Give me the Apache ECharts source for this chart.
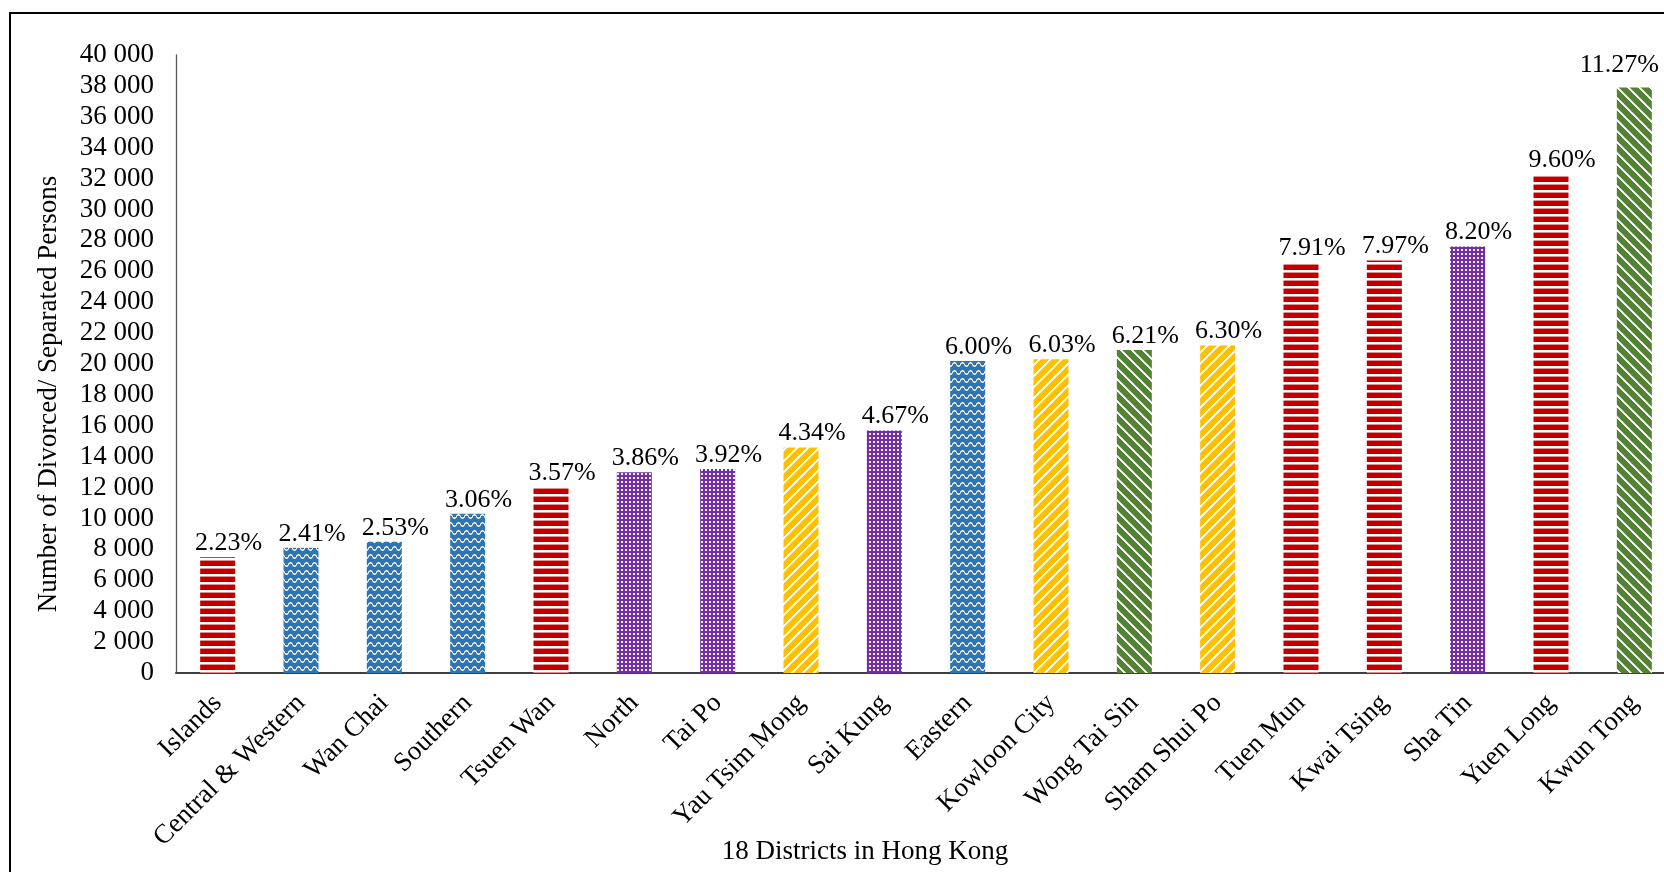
<!DOCTYPE html>
<html>
<head>
<meta charset="utf-8">
<title>Divorced/Separated Persons by District</title>
<script src="https://cdn.jsdelivr.net/npm/echarts@6/dist/echarts.min.js"></script>
<style>
  html, body { margin: 0; padding: 0; background: #ffffff; overflow: hidden; }
  /* the plot runs slightly past the right edge of the window */
  #chart { width: 1680px; height: 872px; }
</style>
</head>
<body>
<div id="chart"></div>
<script>
// District names, in ascending order of divorced/separated population
const categories = [
  'Islands', 'Central & Western', 'Wan Chai', 'Southern', 'Tsuen Wan', 'North',
  'Tai Po', 'Yau Tsim Mong', 'Sai Kung', 'Eastern', 'Kowloon City', 'Wong Tai Sin',
  'Sham Shui Po', 'Tuen Mun', 'Kwai Tsing', 'Sha Tin', 'Yuen Long', 'Kwun Tong'
];

// Number of divorced / separated persons per district
const persons = [
  7500, 8100, 8500, 10300, 12000, 13000,
  13200, 14600, 15700, 20200, 20300, 20900,
  21200, 26600, 26700, 27600, 32300, 37900
];

// Share of the territory-wide total, in percent
const sharePct = [
  2.23, 2.41, 2.53, 3.06, 3.57, 3.86,
  3.92, 4.34, 4.67, 6.00, 6.03, 6.21,
  6.30, 7.91, 7.97, 8.20, 9.60, 11.27
];

// Region group of each district (decides the bar fill)
const regionGroup = [
  'ntWest', 'hkIsland', 'hkIsland', 'hkIsland', 'ntWest', 'ntEast',
  'ntEast', 'klnWest', 'ntEast', 'hkIsland', 'klnWest', 'klnEast',
  'klnWest', 'ntWest', 'ntWest', 'ntEast', 'ntWest', 'klnEast'
];

// Y-axis tick range
const yMin = 0;
const yMax = 40000;
const yStep = 2000;

const FONT = "'Liberation Serif', 'Times New Roman', serif";

// Build a small pixel tile used as a repeating bar fill
function makeTile(w, h, paint) {
  const c = document.createElement('canvas');
  c.width = w; c.height = h;
  const ctx = c.getContext('2d');
  const img = ctx.createImageData(w, h);
  for (let y = 0; y < h; y++) {
    for (let x = 0; x < w; x++) {
      const rgb = paint(x, y);
      const i = (y * w + x) * 4;
      img.data[i] = rgb[0]; img.data[i + 1] = rgb[1]; img.data[i + 2] = rgb[2]; img.data[i + 3] = 255;
    }
  }
  ctx.putImageData(img, 0, 0);
  return c;
}

const WHITE = [255, 255, 255];
const RED = [192, 0, 0];
const BLUE = [46, 117, 182];
const PURPLE = [112, 48, 160];
const YELLOW = [255, 192, 0];
const GREEN = [84, 130, 53];

// horizontal stripes
const redTile = makeTile(8, 8, (x, y) => {
  if (y === 0) return [226, 140, 140];
  if (y <= 5) return RED;
  return WHITE;
});

// white waves on blue
const blueTile = makeTile(8, 8, (x, y) => {
  const yw = 4 - 1.8 * Math.sin(2 * Math.PI * x / 8);
  const d = Math.abs(y - yw);
  if (d < 0.6) return WHITE;
  if (d < 1.1) return [170, 200, 230];
  return BLUE;
});

// white dots on purple
const purpleTile = makeTile(4, 4, (x, y) => {
  if ((x === 1 || x === 2) && (y === 1 || y === 2)) return [242, 236, 248];
  return PURPLE;
});

// forward diagonal stripes
const yellowTile = makeTile(11, 11, (x, y) => {
  const k = (x + y) % 11;
  if (k === 0 || k === 1) return WHITE;
  if (k === 2) return [255, 236, 180];
  return YELLOW;
});

// backward diagonal stripes
const greenTile = makeTile(11, 11, (x, y) => {
  const k = ((x - y) % 11 + 11) % 11;
  if (k === 0 || k === 1) return WHITE;
  if (k === 2) return [200, 215, 190];
  return GREEN;
});

const fills = {
  ntWest: { image: redTile, repeat: 'repeat' },
  hkIsland: { image: blueTile, repeat: 'repeat' },
  ntEast: { image: purpleTile, repeat: 'repeat' },
  klnWest: { image: yellowTile, repeat: 'repeat' },
  klnEast: { image: greenTile, repeat: 'repeat' }
};

// the last label is pulled back inside the visible area
const seriesData = persons.map((v, i) => ({
  value: v,
  itemStyle: { color: fills[regionGroup[i]] },
  label: { offset: i === persons.length - 1 ? [-15, -8] : [11, 0] }
}));

function spaced(n) {
  return String(n).replace(/\B(?=(\d{3})+(?!\d))/g, ' ');
}

const chart = echarts.init(document.getElementById('chart'), null, { renderer: 'canvas' });

chart.setOption({
  backgroundColor: '#ffffff',
  animation: false,
  grid: { left: 176, top: 55, right: 4, bottom: 199, containLabel: false },
  xAxis: {
    type: 'category',
    data: categories,
    axisTick: { show: false },
    axisLine: { show: true, lineStyle: { color: '#404040', width: 2 } },
    axisLabel: {
      interval: 0,
      rotate: 45,
      margin: 26,
      color: '#000',
      fontFamily: FONT,
      fontSize: 27
    }
  },
  yAxis: {
    type: 'value',
    min: yMin,
    max: yMax,
    interval: yStep,
    splitLine: { show: false },
    axisTick: { show: false },
    axisLine: { show: true, lineStyle: { color: '#595959', width: 1.3 } },
    axisLabel: {
      margin: 22,
      color: '#000',
      fontFamily: FONT,
      fontSize: 27,
      formatter: (v) => spaced(v)
    }
  },
  series: [{
    type: 'bar',
    barWidth: 35,
    data: seriesData,
    label: {
      show: true,
      position: 'top',
      distance: 1,
      color: '#000',
      fontFamily: FONT,
      fontSize: 26,
      formatter: (p) => sharePct[p.dataIndex].toFixed(2) + '%'
    }
  }],
  graphic: [
    {
      type: 'rect',
      silent: true,
      shape: { x: 10, y: 13, width: 1700, height: 900 },
      style: { fill: 'none', stroke: '#000', lineWidth: 2 }
    },
    {
      type: 'text',
      silent: true,
      x: 49,
      y: 394,
      rotation: Math.PI / 2,
      style: {
        text: 'Number of Divorced/ Separated Persons',
        font: '27px ' + FONT,
        fill: '#000',
        align: 'center',
        verticalAlign: 'middle'
      }
    },
    {
      type: 'text',
      silent: true,
      x: 865,
      y: 852,
      style: {
        text: '18 Districts in Hong Kong',
        font: '27px ' + FONT,
        fill: '#000',
        align: 'center',
        verticalAlign: 'middle'
      }
    }
  ]
});
</script>
</body>
</html>
